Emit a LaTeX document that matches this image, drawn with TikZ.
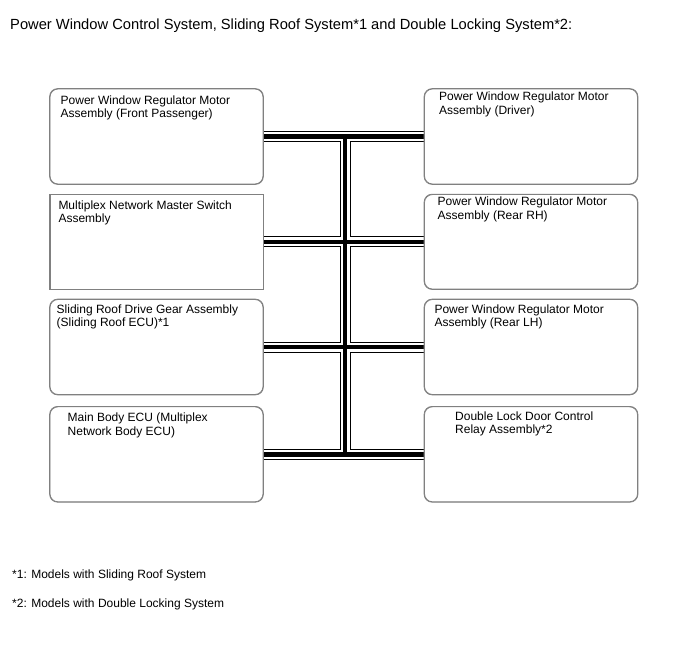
\documentclass[tikz,border=0pt]{standalone}
\usepackage{fontspec}
\setmainfont{Liberation Sans}
\begin{document}
\begin{tikzpicture}[x=1pt,y=-1pt,
  ecubox/.style={draw=black!50, line width=0.8pt, rounded corners=8pt, minimum width=213pt, minimum height=95pt, inner sep=0pt},
  sqbox/.style={ecubox, sharp corners},
  lbl/.style={anchor=north west, inner sep=0pt, align=left, font={\fontsize{12}{13.4}\selectfont}},
  note/.style={anchor=base west, inner sep=0pt, font={\fontsize{12}{14}\selectfont}},
  busout/.style={line width=11pt, black},
  busgap/.style={line width=9pt, white},
  buscore/.style={line width=4.5pt, black}]
\useasboundingbox[fill=white] (0,0) rectangle (688,658);

\node[note, font={\fontsize{14.7}{16}\selectfont}] (title) at (10,30) {Power Window Control System, Sliding Roof System*1 and Double Locking System*2:};

% boxes
\node[ecubox] (L1) at (156.5,136.5) {};
\node[sqbox, minimum height=94.5pt] (L2) at (156.5,241.8) {};
\node[ecubox] (L3) at (156.5,347) {};
\node[ecubox] (L4) at (156.5,454.3) {};
\node[ecubox] (R1) at (531,136.5) {};
\node[ecubox, minimum height=94.5pt] (R2) at (531,241.8) {};
\node[ecubox] (R3) at (531,347) {};
\node[ecubox] (R4) at (531,454.3) {};

% texts
\node[lbl] (tL1) at (60.5,95.3) {Power Window Regulator Motor\\Assembly (Front Passenger)};
\node[lbl] (tL2) at (58.3,200.6) {Multiplex Network Master Switch\\Assembly};
\node[lbl] (tL3) at (56.5,304.6) {Sliding Roof Drive Gear Assembly\\(Sliding Roof ECU)*1};
\node[lbl] (tL4) at (67.5,413) {Main Body ECU (Multiplex\\Network Body ECU)};
\node[lbl] (tR1) at (439,92) {Power Window Regulator Motor\\Assembly (Driver)};
\node[lbl] (tR2) at (437.5,197) {Power Window Regulator Motor\\Assembly (Rear RH)};
\node[lbl] (tR3) at (434.3,304.6) {Power Window Regulator Motor\\Assembly (Rear LH)};
\node[lbl] (tR4) at (455,411.3) {Double Lock Door Control\\Relay Assembly*2};

% bus
\coordinate (vt) at (345,136.5);
\coordinate (vb) at (345,454.3);
\foreach \s in {busout,busgap,buscore}{
  \draw[\s] (L1.east) -- (R1.west);
  \draw[\s] (L2.east) -- (R2.west);
  \draw[\s] (L3.east) -- (R3.west);
  \draw[\s] (L4.east) -- (R4.west);
  \draw[\s] (vt) -- (vb);
}
% redraw box borders over bus ends
\foreach \b in {L1,L3,L4,R1,R2,R3,R4}{\draw[ecubox] (\b.north west) rectangle (\b.south east);}
\draw[sqbox] (L2.north west) rectangle (L2.south east);

\node[note] (n1) at (12,578) {*1: Models with Sliding Roof System};
\node[note] (n2) at (12,607) {*2: Models with Double Locking System};
\end{tikzpicture}
\end{document}
